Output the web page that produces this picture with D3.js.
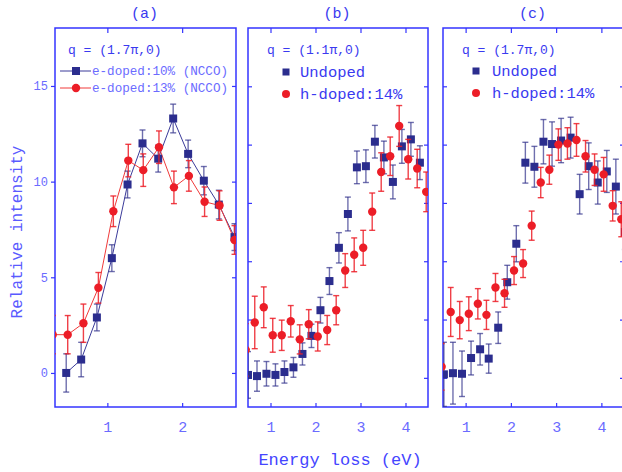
<!DOCTYPE html>
<html>
<head>
<meta charset="utf-8">
<script src="https://cdn.jsdelivr.net/npm/d3@7"></script>
<style>
  body { margin: 0; background: white; }
  text { font-family: "Liberation Mono", "DejaVu Sans Mono", monospace; }
</style>
</head>
<body>
<div id="container"></div>
<script>
// ---- data ----

// panel (a), q = (1.7pi,0), e-doped NCCO
const aBlueX = [0.45, 0.65, 0.86, 1.06, 1.27, 1.47, 1.68, 1.88, 2.08, 2.29, 2.49, 2.70];
const aBlueY = [0.0, 0.7, 2.9, 6.0, 9.85, 12.0, 11.2, 13.3, 11.45, 10.05, 8.8, 7.1];
const aBlueErr = [1.0, 0.9, 0.7, 0.7, 0.7, 0.7, 0.7, 0.75, 0.72, 0.74, 0.75, 0.7];

const aRedX = [0.27, 0.47, 0.68, 0.88, 1.08, 1.28, 1.48, 1.69, 1.89, 2.09, 2.30, 2.50, 2.70];
const aRedY = [2.0, 2.0, 2.6, 4.45, 8.45, 11.1, 10.6, 11.8, 9.7, 10.3, 8.95, 8.75, 6.95];
const aRedErr = [1.0, 1.0, 1.0, 0.8, 0.8, 0.85, 0.85, 0.85, 0.85, 0.8, 0.77, 0.77, 0.75];

// panel (b), q = (1.1pi,0)
const bBlueX = [0.50, 0.70, 0.91, 1.11, 1.31, 1.51, 1.71, 1.91, 2.11, 2.31, 2.52, 2.72, 2.92, 3.12, 3.32, 3.52, 3.72, 3.92, 4.12, 4.32];
const bBlueY = [0.05, 0.03, 0.07, 0.05, 0.10, 0.18, 0.41, 0.72, 1.16, 1.66, 2.23, 2.81, 3.61, 3.63, 4.05, 3.78, 3.36, 3.97, 4.09, 3.69];
const bBlueErr = [0.4, 0.26, 0.21, 0.19, 0.19, 0.17, 0.19, 0.2, 0.22, 0.23, 0.26, 0.29, 0.28, 0.28, 0.28, 0.28, 0.29, 0.29, 0.29, 0.29];

const bRedX = [0.45, 0.65, 0.85, 1.05, 1.25, 1.45, 1.65, 1.85, 2.05, 2.26, 2.46, 2.66, 2.86, 3.06, 3.26, 3.46, 3.66, 3.86, 4.06, 4.26, 4.46];
const bRedY = [0.48, 0.95, 1.21, 0.73, 0.73, 0.97, 0.66, 0.92, 0.71, 0.82, 1.16, 1.84, 2.11, 2.23, 2.85, 3.53, 3.80, 4.32, 3.75, 3.59, 3.19];
const bRedErr = [0.45, 0.45, 0.35, 0.29, 0.26, 0.27, 0.25, 0.25, 0.25, 0.25, 0.25, 0.29, 0.29, 0.3, 0.32, 0.33, 0.33, 0.35, 0.34, 0.33, 0.34];

// panel (c), q = (1.7pi,0)
const cBlueX = [0.52, 0.72, 0.92, 1.12, 1.32, 1.51, 1.72, 1.92, 2.12, 2.32, 2.52, 2.72, 2.91, 3.11, 3.32, 3.52, 3.72, 3.92, 4.12, 4.32, 4.52];
const cBlueY = [0.06, 0.08, 0.07, 0.34, 0.49, 0.33, 0.86, 1.64, 2.30, 3.69, 3.62, 4.05, 4.01, 4.07, 4.12, 3.15, 3.63, 3.35, 3.54, 3.28, 2.5];
const cBlueErr = [0.55, 0.53, 0.39, 0.29, 0.27, 0.25, 0.27, 0.29, 0.31, 0.35, 0.35, 0.38, 0.38, 0.38, 0.35, 0.34, 0.4, 0.37, 0.36, 0.47, 0.3];

const cRedX = [0.47, 0.67, 0.87, 1.07, 1.27, 1.46, 1.66, 1.86, 2.07, 2.27, 2.46, 2.66, 2.85, 3.05, 3.25, 3.45, 3.65, 3.85, 4.05, 4.25, 4.44];
const cRedY = [0.19, 1.13, 0.99, 1.10, 1.27, 1.08, 1.55, 1.45, 1.84, 1.96, 2.61, 3.35, 3.57, 4.0, 4.02, 4.08, 3.80, 3.57, 3.49, 2.95, 2.72];
const cRedErr = [0.4, 0.42, 0.32, 0.29, 0.26, 0.25, 0.24, 0.24, 0.24, 0.24, 0.25, 0.26, 0.25, 0.27, 0.27, 0.28, 0.27, 0.27, 0.29, 0.26, 0.3];

// ticks and labels
const aXTicks = [1, 2];
const aYTicks = [0, 5, 10, 15];
const bcXTicks = [1, 2, 3, 4];
const bcYTicks = [0, 1, 2, 3, 4, 5];

const panelTitles = ["(a)", "(b)", "(c)"];
const qLabels = ["q = (1.7\u03c0,0)", "q = (1.1\u03c0,0)", "q = (1.7\u03c0,0)"];
const aLegend = ["e-doped:10% (NCCO)", "e-doped:13% (NCCO)"];
const bcLegend = ["Undoped", "h-doped:14%"];

// ---- style ----
const frameColor = "#3434ff";
const textColor = "#3a3af0";
const lightText = "#6b6bff";
const blueFill = "#2b2d8e";
const blueErr = "rgba(50,50,140,0.7)";
const redFill = "#ec1d27";
const redErr = "rgba(236,30,40,0.85)";

const plotTop = 28, plotBottom = 407;

function zip(xs, ys, es) {
  return xs.map((x, i) => ({ x: x, y: ys[i], e: es[i] }));
}

const panels = [
  { left: 55, right: 236, xDomain: [0.3, 2.72], yDomain: [-1.78, 18.03],
    xTicks: aXTicks, yTicks: aYTicks, yLabels: true, lines: true,
    blue: zip(aBlueX, aBlueY, aBlueErr), red: zip(aRedX, aRedY, aRedErr) },
  { left: 248, right: 428, xDomain: [0.5, 4.5], yDomain: [-0.5, 6.0],
    xTicks: bcXTicks, yTicks: bcYTicks, yLabels: false, lines: false,
    blue: zip(bBlueX, bBlueY, bBlueErr), red: zip(bRedX, bRedY, bRedErr) },
  { left: 443, right: 624, xDomain: [0.5, 4.5], yDomain: [-0.5, 6.0],
    xTicks: bcXTicks, yTicks: bcYTicks, yLabels: false, lines: false,
    blue: zip(cBlueX, cBlueY, cBlueErr), red: zip(cRedX, cRedY, cRedErr) }
];

const svg = d3.select("#container")
  .append("svg")
  .attr("width", 622)
  .attr("height", 472)
  .style("background-color", "white");

function drawErr(g, pts, x, y, color) {
  let eb = g.append("g").attr("stroke", color).attr("stroke-width", 1.4);
  pts.forEach(function(d) {
    let cx = x(d.x), y0 = y(d.y - d.e), y1 = y(d.y + d.e);
    eb.append("line").attr("x1", cx).attr("x2", cx).attr("y1", y0).attr("y2", y1);
    eb.append("line").attr("x1", cx - 3).attr("x2", cx + 3).attr("y1", y0).attr("y2", y0);
    eb.append("line").attr("x1", cx - 3).attr("x2", cx + 3).attr("y1", y1).attr("y2", y1);
  });
}

panels.forEach(function(p, i) {
  let x = d3.scaleLinear().domain(p.xDomain).range([p.left, p.right]);
  let y = d3.scaleLinear().domain(p.yDomain).range([plotBottom, plotTop]);

  let g = svg.append("g").attr("class", "panel panel" + i);

  g.append("clipPath").attr("id", "clip" + i)
    .append("rect")
    .attr("x", p.left).attr("y", plotTop)
    .attr("width", p.right - p.left).attr("height", plotBottom - plotTop);

  // axes
  let xb = d3.axisBottom(x).tickValues(p.xTicks).tickSizeInner(-4).tickSizeOuter(0).tickPadding(14).tickFormat(d3.format("d"));
  let xt = d3.axisTop(x).tickValues(p.xTicks).tickSizeInner(-5).tickSizeOuter(0).tickFormat("");
  let yl = d3.axisLeft(y).tickValues(p.yTicks).tickSizeOuter(0);
  if (p.yLabels) { yl.tickSizeInner(4).tickPadding(3).tickFormat(d3.format("d")); }
  else { yl.tickSizeInner(-4).tickFormat(""); }
  let yr = d3.axisRight(y).tickValues(p.yTicks).tickSizeInner(-4).tickSizeOuter(0).tickFormat("");

  let axes = [
    g.append("g").attr("transform", "translate(0," + plotBottom + ")").call(xb),
    g.append("g").attr("transform", "translate(0," + plotTop + ")").call(xt),
    g.append("g").attr("transform", "translate(" + p.left + ",0)").call(yl),
    g.append("g").attr("transform", "translate(" + p.right + ",0)").call(yr)
  ];
  axes.forEach(function(a) {
    a.select(".domain").remove();
    a.selectAll("line").attr("stroke", frameColor).attr("stroke-width", 1.2);
    a.selectAll("text").attr("fill", lightText).style("font-family", '"Liberation Mono", monospace');
  });
  axes[0].selectAll("text").style("font-size", "15px");
  axes[2].selectAll("text").style("font-size", "12px");

  // frame
  g.append("rect")
    .attr("x", p.left).attr("y", plotTop)
    .attr("width", p.right - p.left).attr("height", plotBottom - plotTop)
    .attr("fill", "none")
    .attr("stroke", frameColor)
    .attr("stroke-width", 1.5);

  let data = g.append("g").attr("clip-path", "url(#clip" + i + ")");

  if (p.lines) {
    let line = d3.line().x(d => x(d.x)).y(d => y(d.y));
    data.append("path").datum(p.blue).attr("d", line)
      .attr("fill", "none").attr("stroke", "#3b3b9a").attr("stroke-width", 1);
    data.append("path").datum(p.red).attr("d", line)
      .attr("fill", "none").attr("stroke", "#f03a3a").attr("stroke-width", 1);
  }

  drawErr(data, p.blue, x, y, blueErr);
  data.selectAll(".sq").data(p.blue).enter().append("rect")
    .attr("class", "sq")
    .attr("x", d => x(d.x) - 4).attr("y", d => y(d.y) - 4)
    .attr("width", 8).attr("height", 8)
    .attr("fill", blueFill);

  drawErr(data, p.red, x, y, redErr);
  data.selectAll(".dot").data(p.red).enter().append("circle")
    .attr("class", "dot")
    .attr("cx", d => x(d.x)).attr("cy", d => y(d.y))
    .attr("r", 4.2)
    .attr("fill", redFill);

  // panel title
  svg.append("text")
    .attr("x", (p.left + p.right) / 2 - 1).attr("y", 18)
    .attr("text-anchor", "middle")
    .attr("fill", textColor)
    .style("font-size", "15px")
    .text(panelTitles[i]);

  // q label
  svg.append("text")
    .attr("x", p.left + (i == 0 ? 13 : 19)).attr("y", 54)
    .attr("fill", textColor)
    .style("font-size", "13px")
    .text(qLabels[i]);
});

// legend (a): lines with markers
const legA = svg.append("g");
[0, 1].forEach(function(k) {
  let ly = 71 + k * 17;
  legA.append("line").attr("x1", 60).attr("x2", 91).attr("y1", ly).attr("y2", ly)
    .attr("stroke", k == 0 ? "#3b3b9a" : "#f03a3a").attr("stroke-width", 1);
  if (k == 0) {
    legA.append("rect").attr("x", 72).attr("y", ly - 4).attr("width", 8).attr("height", 8).attr("fill", blueFill);
  } else {
    legA.append("circle").attr("cx", 76).attr("cy", ly).attr("r", 4.2).attr("fill", redFill);
  }
  legA.append("text").attr("x", 92).attr("y", ly + 4)
    .attr("fill", lightText).style("font-size", "12.6px")
    .text(aLegend[k]);
});

// legends (b), (c): markers only
[{ mx: 286, tx: 300, y0: 72 }, { mx: 476, tx: 492, y0: 71 }].forEach(function(l) {
  let g = svg.append("g");
  g.append("rect").attr("x", l.mx - 3.5).attr("y", l.y0 - 3.5).attr("width", 7).attr("height", 7).attr("fill", blueFill);
  g.append("circle").attr("cx", l.mx).attr("cy", l.y0 + 22).attr("r", 4).attr("fill", redFill);
  g.append("text").attr("x", l.tx).attr("y", l.y0 + 5)
    .attr("fill", textColor).style("font-size", "15.5px").text(bcLegend[0]);
  g.append("text").attr("x", l.tx).attr("y", l.y0 + 27)
    .attr("fill", textColor).style("font-size", "15.5px").text(bcLegend[1]);
});

// axis titles
svg.append("text")
  .attr("transform", "translate(22,232) rotate(-90)")
  .attr("text-anchor", "middle")
  .attr("fill", "#5a5aff")
  .style("font-size", "16px")
  .text("Relative intensity");

svg.append("text")
  .attr("x", 340).attr("y", 465)
  .attr("text-anchor", "middle")
  .attr("fill", "#4545ff")
  .style("font-size", "17px")
  .text("Energy loss (eV)");
</script>
</body>
</html>
